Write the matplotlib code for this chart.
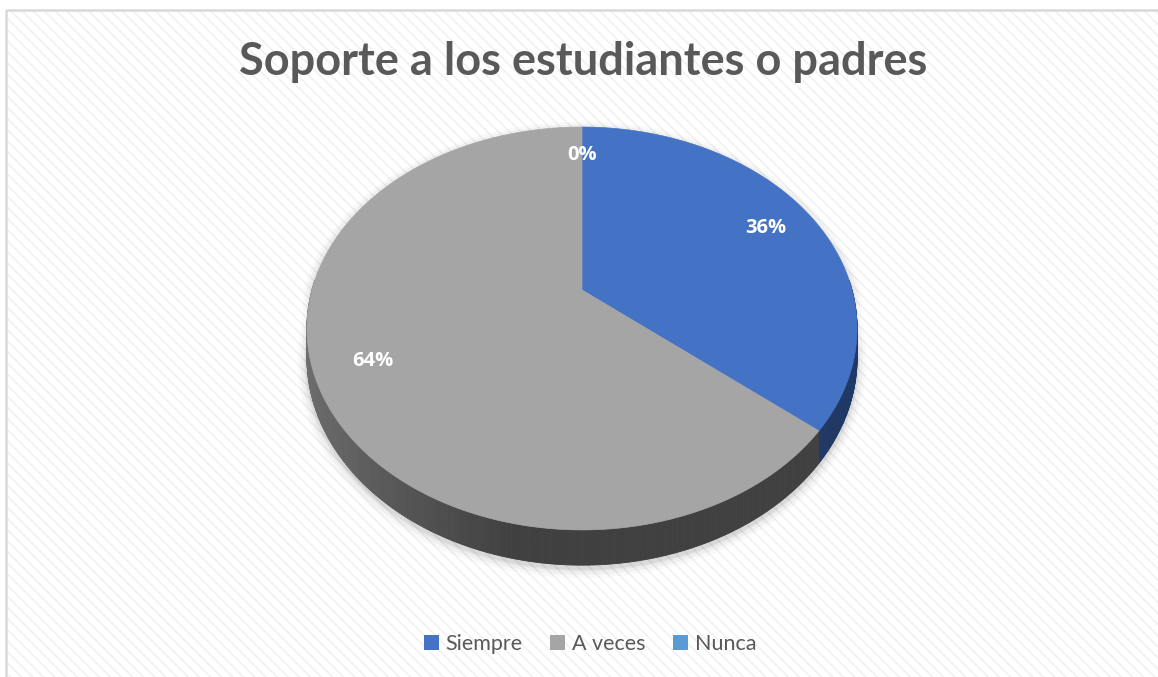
import numpy as np
import matplotlib.pyplot as plt
from matplotlib.patches import Rectangle, Patch
from matplotlib.colors import to_rgb

# data
categories = ['Siempre', 'A veces', 'Nunca']
values = [36, 64, 0]
colors = ['#4472C4', '#A5A5A5', '#5B9BD5']
side_colors = ['#203864', '#404040', '#2e5c8a']
title = 'Soporte a los estudiantes o padres'

# pie geometry in pixels (3D perspective look like excel)
cx, cy = 582, 290
a, b, k = 270, 194.1, 0.191
depth = 28.5


def project(theta, r=1.0):
    u = r * np.cos(theta)
    v = r * np.sin(theta)
    den = 1 + k * v
    return cx + a * u / den, cy - b * v / den, den


fig = plt.figure(figsize=(11.58, 6.77), dpi=100)
ax = fig.add_axes([0, 0, 1, 1])
ax.set_xlim(0, 1158)
ax.set_ylim(677, 0)
ax.axis('off')

# background with light diagonal stripes
plt.rcParams['hatch.linewidth'] = 1.1
bg = Rectangle((6, 10), 1160, 680, facecolor='white', edgecolor='#f0f0f0',
               hatch='\\\\\\', lw=0, zorder=0)
ax.add_patch(bg)
ax.add_patch(Rectangle((6, 10), 1160, 680, facecolor='none', edgecolor='#d9d9d9',
                       lw=1.8, zorder=1))

total = float(sum(values))
starts = []
ang = 90.0
for v in values:
    starts.append((ang, ang - 360 * v / total))
    ang -= 360 * v / total

# soft shadow
th = np.linspace(0, 2 * np.pi, 400)
for grow, al in [(9, 0.025), (6, 0.035), (3, 0.045), (1.5, 0.05)]:
    x, y, den = project(th)
    ys = np.where(np.sin(th) < 0, y + depth / den, y)
    sx = cx + (x - cx) * (1 + grow / 270.0)
    sy = 328 + (ys - 328) * (1 + grow / 220.0) + 3
    ax.fill(sx, sy, color='black', alpha=al, lw=0, zorder=2)

# side walls
def side_shade(i, u):
    base = np.array(to_rgb(side_colors[i]))
    if i == 1:
        light = np.array(to_rgb('#707070'))
        t = np.clip((u + 1) / 0.8, 0, 1)
        return tuple(light * (1 - t) + base * t)
    return tuple(base)

for i, (t0, t1) in enumerate(starts):
    if values[i] == 0:
        continue
    lo, hi = np.radians(min(t0, t1)), np.radians(max(t0, t1))
    n = max(2, int((hi - lo) / np.radians(0.5)))
    edges = np.linspace(lo, hi, n + 1)
    for e0, e1 in zip(edges[:-1], edges[1:]):
        if np.sin(0.5 * (e0 + e1)) > 0.05:
            continue
        tt = np.array([e0, e1])
        x, y, den = project(tt)
        xs = [x[0], x[1], x[1], x[0]]
        ys = [y[0], y[1], y[1] + depth / den[1], y[0] + depth / den[0]]
        c = side_shade(i, np.cos(0.5 * (e0 + e1)))
        ax.fill(xs, ys, color=c, lw=0.6, ec=c, zorder=3)

# top faces
for i, (t0, t1) in enumerate(starts):
    if values[i] == 0:
        continue
    tt = np.radians(np.linspace(t0, t1, 200))
    x, y, _ = project(tt)
    ax.fill(np.r_[cx, x], np.r_[cy, y], color=colors[i], lw=0.5, ec=colors[i], zorder=4)

# labels
for i, (t0, t1) in enumerate(starts):
    mid = np.radians(0.5 * (t0 + t1))
    x, y, _ = project(mid, 0.8)
    ax.text(x, y, f'{values[i]}%', ha='center', va='center', color='white',
            fontsize=14.5, fontweight='bold', family='Open Sans', zorder=5)

ax.text(583, 62, title, ha='center', va='center', fontsize=32.5, fontweight='bold',
        color='#595959', family='Lato', zorder=5)

handles = [Patch(facecolor=c, edgecolor='none') for c in colors]
leg = fig.legend(handles, categories, loc='center', bbox_to_anchor=(590 / 1158, 1 - 644 / 677),
                 ncol=3, frameon=False, handlelength=0.7, handleheight=0.7,
                 handletextpad=0.3, columnspacing=1.3, prop={'family': 'Lato', 'size': 15.5})
for t in leg.get_texts():
    t.set_color('#595959')

plt.savefig('out.png', dpi=100)
